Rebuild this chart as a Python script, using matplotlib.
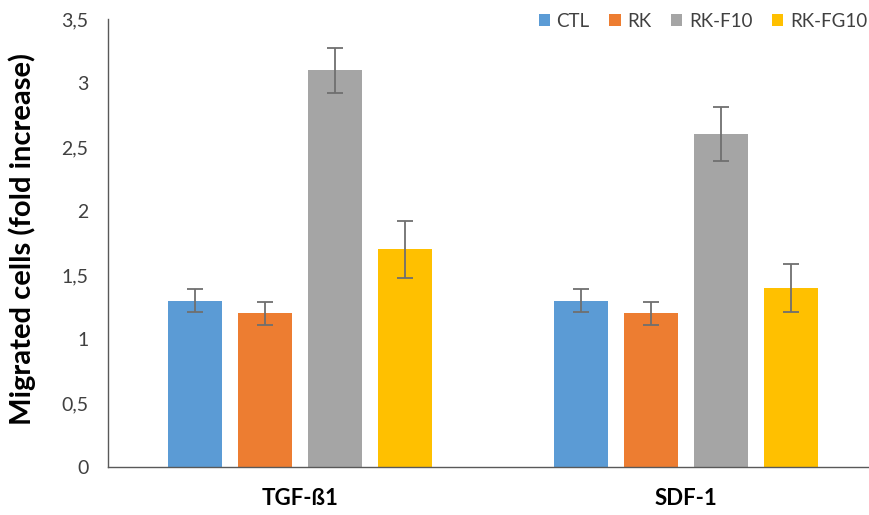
import matplotlib
matplotlib.use("Agg")
import matplotlib.pyplot as plt
import numpy as np

categories = ["TGF-ß1", "SDF-1"]
series = ["CTL", "RK", "RK-F10", "RK-FG10"]
ctl = [1.3, 1.3]
rk = [1.2, 1.2]
rkf10 = [3.1, 2.6]
rkfg10 = [1.7, 1.4]
ctl_err = [0.09, 0.09]
rk_err = [0.09, 0.09]
rkf10_err = [0.175, 0.21]
rkfg10_err = [0.22, 0.185]
yticks = [0, 0.5, 1, 1.5, 2, 2.5, 3, 3.5]
ytick_labels = ["0", "0,5", "1", "1,5", "2", "2,5", "3", "3,5"]

colors = ["#5B9BD5", "#ED7D31", "#A5A5A5", "#FFC000"]
values = [ctl, rk, rkf10, rkfg10]
errs = [ctl_err, rk_err, rkf10_err, rkfg10_err]

plt.rcParams['font.family'] = ['Lato', 'DejaVu Sans']

fig = plt.figure(figsize=(8.7, 5.15), dpi=100)
ax = fig.add_axes([0.124, 0.093, 0.874, 0.870])

x = np.arange(len(categories))
width = 0.14
step = 0.181
offsets = (np.arange(len(series)) - 1.5) * step
for i, (name, vals, er, c) in enumerate(zip(series, values, errs, colors)):
    ax.bar(x + offsets[i], vals, width, color=c, label=name,
           yerr=er, error_kw=dict(ecolor="#6f6f6f", elinewidth=1.3, capsize=6, capthick=1.3))

ax.set_xlim(-0.497, 1.472)
ax.set_ylim(0, 3.5)
ax.set_yticks(yticks)
ax.set_yticklabels(ytick_labels, fontsize=14, color="#404040")
ax.set_xticks(x)
ax.set_xticklabels(categories, fontsize=16, fontweight="bold", color="black")
ax.tick_params(axis="both", length=0)
ax.tick_params(axis="y", pad=14)
ax.tick_params(axis="x", pad=15)
for s in ["top", "right"]:
    ax.spines[s].set_visible(False)
for s in ["left", "bottom"]:
    ax.spines[s].set_color("#595959")
    ax.spines[s].set_linewidth(1.0)

ax.set_ylabel("Migrated cells (fold increase)", fontsize=21, fontweight="bold")
ax.yaxis.set_label_coords(-0.095, 0.51)

leg = fig.legend(loc="upper right", bbox_to_anchor=(1.016, 1.008), ncol=4, frameon=False,
                 fontsize=13.5, handlelength=0.6, handleheight=0.6, handletextpad=0.35,
                 columnspacing=1.05, labelcolor="#404040")

fig.savefig("out.png", dpi=100)
